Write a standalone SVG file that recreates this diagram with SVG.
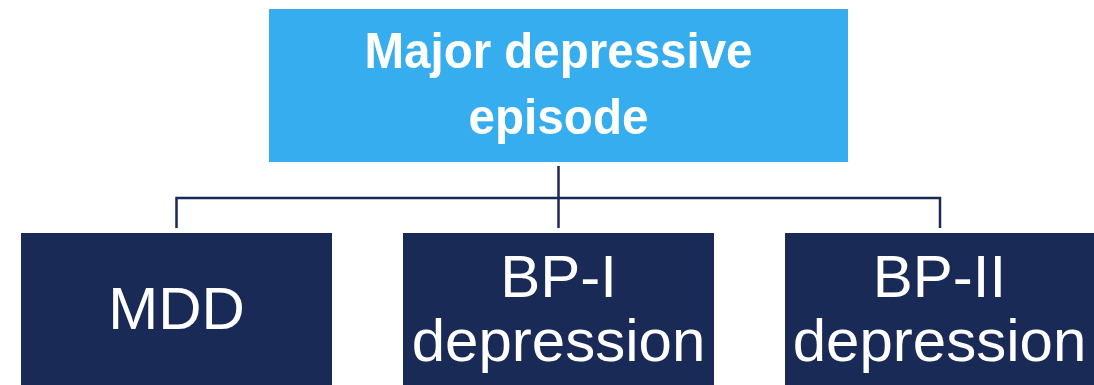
<svg xmlns="http://www.w3.org/2000/svg" width="1094" height="385" viewBox="0 0 1094 385">
<style>
.top{fill:#36ADEE}
.box{fill:#1A2A56}
.t1{font-family:"Liberation Sans",Arial,sans-serif;font-weight:bold;font-size:50px;fill:#fff;text-anchor:middle}
.t2{font-family:"Liberation Sans",Arial,sans-serif;font-size:60px;fill:#fff;text-anchor:middle}
.ln{stroke:#1A2A56;stroke-width:2.5;fill:none}
</style>
<rect width="1094" height="385" fill="#fff"/>
<g id="connectors">
<path class="ln" d="M558.5 166 V228 M176.5 228 V198 H940 V228"/>
</g>
<g id="node-mde">
<rect class="top" x="269" y="9" width="579" height="153"/>
<text class="t1" x="558.5" y="68" textLength="388" lengthAdjust="spacingAndGlyphs">Major depressive</text>
<text class="t1" x="558.5" y="134" textLength="180" lengthAdjust="spacingAndGlyphs">episode</text>
</g>
<g id="node-mdd">
<rect class="box" x="21" y="233" width="311" height="152"/>
<text class="t2" x="176.5" y="329">MDD</text>
</g>
<g id="node-bp1">
<rect class="box" x="403" y="233" width="311" height="152"/>
<text class="t2" x="558.5" y="297">BP-I</text>
<text class="t2" x="558.5" y="361">depression</text>
</g>
<g id="node-bp2">
<rect class="box" x="785" y="233" width="309" height="152"/>
<text class="t2" x="939.5" y="297">BP-II</text>
<text class="t2" x="939.5" y="361">depression</text>
</g>
</svg>
